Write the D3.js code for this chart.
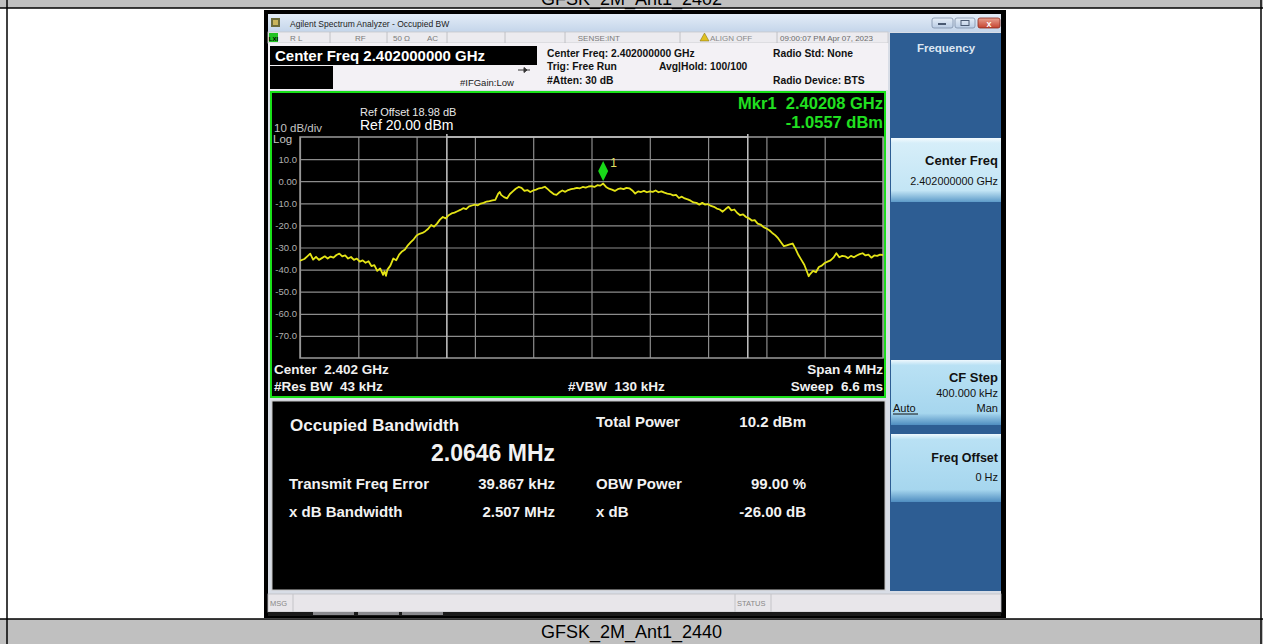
<!DOCTYPE html>
<html>
<head>
<meta charset="utf-8">
<script src="https://cdn.jsdelivr.net/npm/d3@7"></script>
<style>
  body { margin: 0; background: #fff; }
  svg text { font-family: Arial, "Liberation Sans", sans-serif; white-space: pre; }
</style>
</head>
<body>
<div id="canvas"></div>
<script>
const W = 1263;
const H = 644;

// captions of the table rows
const captionTop = "GFSK_2M_Ant1_2402";
const captionBottom = "GFSK_2M_Ant1_2440";

// trace (MHz, dBm)
const traceFreq = [
  2400.00, 2400.03, 2400.05, 2400.07, 2400.09, 2400.11, 2400.13, 2400.15, 2400.17, 2400.19,
  2400.21, 2400.23, 2400.25, 2400.27, 2400.29, 2400.31, 2400.33, 2400.35, 2400.37, 2400.39,
  2400.41, 2400.43, 2400.45, 2400.47, 2400.49, 2400.51, 2400.53, 2400.55, 2400.57, 2400.58,
  2400.59, 2400.60, 2400.62, 2400.64, 2400.66, 2400.68, 2400.70, 2400.72, 2400.74, 2400.76,
  2400.78, 2400.80, 2400.82, 2400.84, 2400.86, 2400.88, 2400.90, 2400.92, 2400.94, 2400.96,
  2400.98, 2401.00, 2401.02, 2401.04, 2401.06, 2401.08, 2401.10, 2401.12, 2401.14, 2401.16,
  2401.18, 2401.20, 2401.22, 2401.24, 2401.26, 2401.28, 2401.30, 2401.32, 2401.34, 2401.36,
  2401.37, 2401.38, 2401.40, 2401.42, 2401.44, 2401.46, 2401.48, 2401.50, 2401.52, 2401.54,
  2401.56, 2401.58, 2401.60, 2401.62, 2401.64, 2401.66, 2401.68, 2401.70, 2401.72, 2401.74,
  2401.76, 2401.78, 2401.80, 2401.82, 2401.84, 2401.86, 2401.88, 2401.90, 2401.92, 2401.94,
  2401.96, 2401.98, 2402.00, 2402.02, 2402.04, 2402.06, 2402.08, 2402.10, 2402.12, 2402.14,
  2402.16, 2402.18, 2402.20, 2402.22, 2402.24, 2402.26, 2402.28, 2402.30, 2402.32, 2402.34,
  2402.36, 2402.38, 2402.40, 2402.42, 2402.44, 2402.46, 2402.48, 2402.50, 2402.52, 2402.54,
  2402.56, 2402.58, 2402.60, 2402.62, 2402.64, 2402.66, 2402.68, 2402.70, 2402.72, 2402.74,
  2402.76, 2402.78, 2402.80, 2402.82, 2402.84, 2402.86, 2402.88, 2402.90, 2402.92, 2402.94,
  2402.96, 2402.98, 2403.00, 2403.02, 2403.04, 2403.06, 2403.08, 2403.10, 2403.12, 2403.14,
  2403.16, 2403.18, 2403.20, 2403.22, 2403.24, 2403.26, 2403.28, 2403.30, 2403.32, 2403.34,
  2403.36, 2403.38, 2403.40, 2403.42, 2403.44, 2403.46, 2403.48, 2403.49, 2403.50, 2403.52,
  2403.54, 2403.56, 2403.58, 2403.60, 2403.62, 2403.64, 2403.66, 2403.68, 2403.70, 2403.72,
  2403.74, 2403.76, 2403.78, 2403.80, 2403.82, 2403.84, 2403.86, 2403.88, 2403.90, 2403.92,
  2403.94, 2403.96, 2403.98, 2404.00
];
const traceLevel = [
  -36.0, -35.2, -34.0, -32.8, -35.5, -34.2, -35.6, -34.8, -34.0, -35.0,
  -34.1, -34.6, -33.4, -32.8, -34.0, -33.6, -35.0, -34.3, -35.6, -35.0,
  -36.4, -35.8, -36.9, -36.2, -38.4, -38.0, -40.6, -39.5, -42.4, -40.8,
  -42.8, -40.0, -38.2, -35.0, -35.8, -33.2, -31.8, -30.9, -29.0, -27.6,
  -26.3, -24.6, -23.8, -23.4, -22.6, -21.5, -19.8, -20.6, -19.2, -17.4,
  -16.2, -16.8, -15.4, -14.6, -14.2, -13.6, -13.0, -12.2, -12.6, -11.4,
  -11.0, -10.6, -10.9, -10.1, -9.8, -9.2, -9.0, -8.7, -8.4, -5.6,
  -4.9, -6.2, -7.2, -7.8, -5.8, -4.6, -3.4, -2.6, -3.0, -4.4,
  -4.0, -4.9, -4.2, -3.8, -3.2, -3.0, -2.5, -3.6, -4.8, -5.8,
  -6.2, -5.0, -4.2, -4.8, -4.0, -3.6, -3.4, -3.0, -3.2, -2.6,
  -2.9, -2.4, -2.2, -2.6, -1.8, -2.0, -1.06, -2.6, -3.4, -3.8,
  -4.4, -3.6, -3.2, -3.6, -3.0, -3.2, -4.2, -5.6, -4.6, -4.9,
  -4.4, -5.0, -4.6, -4.8, -4.2, -5.0, -4.6, -5.2, -5.6, -5.8,
  -6.4, -6.2, -7.6, -7.0, -7.8, -8.2, -8.8, -9.6, -9.8, -10.6,
  -9.8, -10.6, -10.4, -11.2, -11.6, -12.4, -12.8, -13.8, -12.6, -11.6,
  -13.2, -12.8, -14.4, -15.4, -15.0, -16.2, -16.8, -17.8, -17.6, -19.2,
  -19.6, -20.8, -21.4, -22.2, -23.4, -24.4, -25.8, -27.6, -29.4, -29.0,
  -28.6, -28.2, -30.6, -33.4, -35.6, -37.8, -41.2, -43.0, -42.0, -40.6,
  -41.2, -38.8, -38.2, -37.0, -36.4, -35.8, -34.6, -32.6, -34.4, -33.8,
  -34.0, -34.8, -33.8, -34.4, -33.6, -33.0, -32.6, -33.6, -33.2, -34.6,
  -33.6, -33.8, -33.2, -33.4
];

// graticule
const freqGrid = [2400.0, 2400.4, 2400.8, 2401.2, 2401.6, 2402.0, 2402.4, 2402.8, 2403.2, 2403.6, 2404.0];
const levelTicks = [10, 0, -10, -20, -30, -40, -50, -60, -70];
const levelLabels = ["10.0", "0.00", "-10.0", "-20.0", "-30.0", "-40.0", "-50.0", "-60.0", "-70.0"];
const refLevel = 20;
const bottomLevel = -80;

// marker and occupied bandwidth edges
const markerFreq = 2402.08;
const markerLevel = -1.0557;
const obwEdges = [2401.0076, 2403.0722];

// measurement summary
const resultRows = [
  { name: "Transmit Freq Error", value: "39.867 kHz", name2: "OBW Power", value2: "99.00 %" },
  { name: "x dB Bandwidth", value: "2.507 MHz", name2: "x dB", value2: "-26.00 dB" }
];

const svg = d3.select("#canvas").append("svg")
  .attr("width", W)
  .attr("height", H);

const defs = svg.append("defs");
function vgrad(id, stops) {
  const g = defs.append("linearGradient").attr("id", id)
    .attr("x1", 0).attr("y1", 0).attr("x2", 0).attr("y2", 1);
  stops.forEach(s => g.append("stop").attr("offset", s[0]).attr("stop-color", s[1]));
}
vgrad("titleBar", [[0, "#e3ecf7"], [1, "#c4d5ea"]]);
vgrad("keyLight", [[0, "#f4fbfe"], [0.08, "#d6eef9"], [0.82, "#c3e5f5"], [1, "#5d9bc9"]]);
vgrad("keyBlue", [[0, "#eef8fd"], [0.08, "#b9e1f4"], [0.82, "#a6d6ee"], [1, "#4f8dc0"]]);
vgrad("winBtn", [[0, "#e6eef8"], [1, "#b9cbe3"]]);
vgrad("closeBtn", [[0, "#e9a190"], [1, "#c4432f"]]);

function label(parent, x, y, s, o) {
  o = o || {};
  return parent.append("text")
    .attr("x", x).attr("y", y)
    .attr("font-size", (o.size || 10) + "px")
    .attr("font-weight", o.weight || "normal")
    .attr("fill", o.fill || "#000")
    .attr("text-anchor", o.anchor || "start")
    .text(s);
}

// ---- page / table frame
svg.append("rect").attr("x", 0).attr("y", 0).attr("width", W).attr("height", 8).attr("fill", "#c0c0c0");
svg.append("rect").attr("x", 0).attr("y", 619).attr("width", W).attr("height", H - 619).attr("fill", "#c0c0c0");
label(svg, W / 2, 5, captionTop, { size: 18, anchor: "middle" });
label(svg, W / 2, 638, captionBottom, { size: 18, anchor: "middle" });
[[0, 8, W, 8], [0, 619, W, 619], [7, 0, 7, H], [1261, 0, 1261, H]].forEach(l => {
  svg.append("line").attr("x1", l[0]).attr("y1", l[1]).attr("x2", l[2]).attr("y2", l[3])
    .attr("stroke", "#000").attr("stroke-width", 1.5);
});

// ---- screenshot window
const win = svg.append("g");
win.append("rect").attr("x", 264).attr("y", 10).attr("width", 742).attr("height", 608).attr("fill", "#000");
win.append("rect").attr("x", 268).attr("y", 14).attr("width", 733).attr("height", 600).attr("fill", "#d8dde6");
win.append("rect").attr("x", 268).attr("y", 14).attr("width", 733).attr("height", 18).attr("fill", "url(#titleBar)");
win.append("rect").attr("x", 271).attr("y", 18).attr("width", 9).attr("height", 9).attr("fill", "#6b6b3a");
win.append("rect").attr("x", 273).attr("y", 20).attr("width", 5).attr("height", 5).attr("fill", "#c9b45a");
label(win, 290, 26.5, "Agilent Spectrum Analyzer - Occupied BW", { size: 8.5, fill: "#222" });
[[932, 21, "winBtn"], [955, 20, "winBtn"], [978, 22, "closeBtn"]].forEach(b => {
  win.append("rect").attr("x", b[0]).attr("y", 18).attr("width", b[1]).attr("height", 10).attr("rx", 2)
    .attr("fill", "url(#" + b[2] + ")").attr("stroke", b[2] === "closeBtn" ? "#8a2a1c" : "#7e8fa8").attr("stroke-width", 0.8);
});
win.append("rect").attr("x", 938).attr("y", 23).attr("width", 8).attr("height", 2).attr("fill", "#4a5a72");
win.append("rect").attr("x", 961).attr("y", 20.5).attr("width", 8).attr("height", 5).attr("fill", "none").attr("stroke", "#4a5a72").attr("stroke-width", 1);
label(win, 989, 26.5, "x", { size: 9, weight: "bold", fill: "#fff", anchor: "middle" });

// status row
win.append("rect").attr("x", 268).attr("y", 32).attr("width", 620).attr("height", 11).attr("fill", "#ecebef").attr("stroke", "#c8c8cc").attr("stroke-width", 0.8);
win.append("rect").attr("x", 269).attr("y", 33).attr("width", 9).attr("height", 9).attr("fill", "#22c322");
label(win, 273.5, 40.5, "LXI", { size: 6, weight: "bold", anchor: "middle" });
[330, 387, 447, 505, 565, 680, 777].forEach(x => {
  win.append("line").attr("x1", x).attr("x2", x).attr("y1", 32).attr("y2", 43).attr("stroke", "#b8b8bc").attr("stroke-width", 0.8);
});
label(win, 290, 40.5, "R L", { size: 8, fill: "#7a7a7a" });
label(win, 355, 40.5, "RF", { size: 8, fill: "#7a7a7a" });
label(win, 393, 40.5, "50 \u03a9", { size: 8, fill: "#7a7a7a" });
label(win, 427, 40.5, "AC", { size: 8, fill: "#7a7a7a" });
label(win, 620, 40.5, "SENSE:INT", { size: 8, fill: "#7a7a7a", anchor: "end" });
win.append("path").attr("d", "M700,41 L704.5,33 L709,41 Z").attr("fill", "#e0c020").attr("stroke", "#7a6a10").attr("stroke-width", 0.5);
label(win, 710, 40.5, "ALIGN OFF", { size: 8, fill: "#8a8a8a" });
label(win, 780, 40.5, "09:00:07 PM Apr 07, 2023", { size: 8, fill: "#6a6a6a" });

// info area
win.append("rect").attr("x", 268).attr("y", 43).attr("width", 620).attr("height", 47).attr("fill", "#f3f1f5");
win.append("rect").attr("x", 270).attr("y", 46).attr("width", 267).attr("height", 19).attr("fill", "#000");
win.append("rect").attr("x", 270).attr("y", 66).attr("width", 63).attr("height", 23).attr("fill", "#000");
label(win, 275, 61, "Center Freq 2.402000000 GHz", { size: 15, weight: "bold", fill: "#fff" });
label(win, 547, 57, "Center Freq: 2.402000000 GHz", { size: 10.3, weight: "bold", fill: "#111" });
label(win, 547, 70, "Trig: Free Run", { size: 10.3, weight: "bold", fill: "#111" });
label(win, 547, 84, "#Atten: 30 dB", { size: 10.3, weight: "bold", fill: "#111" });
label(win, 659, 70, "Avg|Hold: 100/100", { size: 10.3, weight: "bold", fill: "#111" });
label(win, 773, 57, "Radio Std: None", { size: 10.3, weight: "bold", fill: "#111" });
label(win, 773, 84, "Radio Device: BTS", { size: 10.3, weight: "bold", fill: "#111" });
label(win, 460, 86, "#IFGain:Low", { size: 9.5, fill: "#222" });
win.append("path").attr("d", "M518,70 L530,70 M524,67.5 L527,70 L524,72.5 Z").attr("stroke", "#333").attr("stroke-width", 1).attr("fill", "#333");

// ---- spectrum display
const disp = svg.append("g");
disp.append("rect").attr("x", 271).attr("y", 92).attr("width", 614).attr("height", 305)
  .attr("fill", "#000").attr("stroke", "#19e019").attr("stroke-width", 2);

const x = d3.scaleLinear().domain([freqGrid[0], freqGrid[freqGrid.length - 1]]).range([300, 883]);
const y = d3.scaleLinear().domain([bottomLevel, refLevel]).range([358, 137]);
const gw = x.range()[1] - x.range()[0];
const gh = y.range()[0] - y.range()[1];

const gridX = disp.append("g")
  .attr("transform", "translate(0," + y(bottomLevel) + ")")
  .call(d3.axisBottom(x).tickValues(freqGrid).tickSize(-gh).tickFormat(""));
const gridY = disp.append("g")
  .attr("transform", "translate(" + x.range()[0] + ",0)")
  .call(d3.axisLeft(y).tickValues(levelTicks).tickSize(-gw).tickPadding(3)
    .tickFormat((d, i) => levelLabels[i]));
[gridX, gridY].forEach(g => {
  g.select(".domain").remove();
  g.selectAll(".tick line").attr("stroke", "#8c8c8c").attr("stroke-width", 1.2);
});
gridY.selectAll(".tick text").attr("fill", "#b0b0b0").attr("font-size", "9.5px")
  .attr("font-family", "Arial, 'Liberation Sans', sans-serif");
disp.append("rect").attr("x", x.range()[0]).attr("y", y(refLevel)).attr("width", gw).attr("height", gh)
  .attr("fill", "none").attr("stroke", "#9a9a9a").attr("stroke-width", 1.5);

// occupied bandwidth bracket
obwEdges.forEach(f => {
  disp.append("line").attr("x1", x(f)).attr("x2", x(f)).attr("y1", y(refLevel) - 3).attr("y2", y(bottomLevel))
    .attr("stroke", "#bcbcbc").attr("stroke-width", 1.6);
});
disp.append("line").attr("x1", x(obwEdges[0])).attr("x2", x(obwEdges[1]))
  .attr("y1", y(refLevel)).attr("y2", y(refLevel)).attr("stroke", "#c4c4c4").attr("stroke-width", 1.5);

// trace
disp.append("clipPath").attr("id", "gratClip").append("rect")
  .attr("x", x.range()[0]).attr("y", y(refLevel)).attr("width", gw).attr("height", gh);
const line = d3.line().x(d => x(d[0])).y(d => y(d[1]));
disp.append("path")
  .datum(traceFreq.map((f, i) => [f, traceLevel[i]]))
  .attr("clip-path", "url(#gratClip)")
  .attr("d", line)
  .attr("fill", "none")
  .attr("stroke", "#e4e416")
  .attr("stroke-width", 1.8)
  .attr("stroke-linejoin", "round");

// marker
const mx = x(markerFreq);
const my = y(markerLevel) - 2.5;
disp.append("path")
  .attr("d", `M${mx},${my} L${mx - 5},${my - 10} L${mx},${my - 20} L${mx + 5},${my - 10} Z`)
  .attr("fill", "#19d919");
label(disp, mx + 7, my - 14, "1", { size: 12, fill: "#e4e060" });

// display annotations
label(disp, 360, 116, "Ref Offset 18.98 dB", { size: 11, fill: "#e8e8e8" });
label(disp, 360, 130, "Ref 20.00 dBm", { size: 14, fill: "#fff" });
label(disp, 274, 131.5, "10 dB/div", { size: 11.5, fill: "#c4c4c4" });
label(disp, 273, 143, "Log", { size: 11.5, fill: "#c4c4c4" });
label(disp, 883, 109, "Mkr1  2.40208 GHz", { size: 16.5, weight: "bold", fill: "#20e020", anchor: "end" });
label(disp, 883, 128, "-1.0557 dBm", { size: 16.5, weight: "bold", fill: "#20e020", anchor: "end" });
label(disp, 274, 374, "Center  2.402 GHz", { size: 13.5, weight: "bold", fill: "#f0f0f0" });
label(disp, 274, 391, "#Res BW  43 kHz", { size: 13.5, weight: "bold", fill: "#f0f0f0" });
label(disp, 568, 391, "#VBW  130 kHz", { size: 13.5, weight: "bold", fill: "#f0f0f0" });
label(disp, 883, 374, "Span 4 MHz", { size: 13.5, weight: "bold", fill: "#f0f0f0", anchor: "end" });
label(disp, 883, 391, "Sweep  6.6 ms", { size: 13.5, weight: "bold", fill: "#f0f0f0", anchor: "end" });

// ---- measurement results
const res = svg.append("g");
res.append("rect").attr("x", 272).attr("y", 401).attr("width", 613).attr("height", 189)
  .attr("fill", "#000").attr("stroke", "#c4c4c4").attr("stroke-width", 1);
label(res, 290, 431, "Occupied Bandwidth", { size: 17, weight: "bold", fill: "#f2f2f2" });
label(res, 555, 461, "2.0646 MHz", { size: 23, weight: "bold", fill: "#f2f2f2", anchor: "end" });
label(res, 596, 427, "Total Power", { size: 15, weight: "bold", fill: "#f2f2f2" });
label(res, 806, 427, "10.2 dBm", { size: 15, weight: "bold", fill: "#f2f2f2", anchor: "end" });
resultRows.forEach((r, i) => {
  const by = 489 + i * 28;
  label(res, 289, by, r.name, { size: 15, weight: "bold", fill: "#f2f2f2" });
  label(res, 555, by, r.value, { size: 15, weight: "bold", fill: "#f2f2f2", anchor: "end" });
  label(res, 596, by, r.name2, { size: 15, weight: "bold", fill: "#f2f2f2" });
  label(res, 806, by, r.value2, { size: 15, weight: "bold", fill: "#f2f2f2", anchor: "end" });
});

// ---- soft key panel
const keys = svg.append("g");
keys.append("rect").attr("x", 890).attr("y", 33).attr("width", 111).attr("height", 558).attr("fill", "#2d5d93");
label(keys, 946, 52, "Frequency", { size: 11.5, weight: "bold", fill: "#dce6f2", anchor: "middle" });
keys.append("rect").attr("x", 891).attr("y", 138).attr("width", 110).attr("height", 64).attr("fill", "url(#keyLight)");
label(keys, 998, 165, "Center Freq", { size: 13, weight: "bold", fill: "#111", anchor: "end" });
label(keys, 998, 185, "2.402000000 GHz", { size: 10.8, fill: "#111", anchor: "end" });
keys.append("rect").attr("x", 891).attr("y", 360).attr("width", 110).attr("height", 65).attr("fill", "url(#keyBlue)");
label(keys, 998, 382, "CF Step", { size: 13, weight: "bold", fill: "#111", anchor: "end" });
label(keys, 998, 397, "400.000 kHz", { size: 11, fill: "#111", anchor: "end" });
label(keys, 893, 412, "Auto", { size: 11, fill: "#111" });
keys.append("line").attr("x1", 893).attr("x2", 918).attr("y1", 414).attr("y2", 414).attr("stroke", "#111").attr("stroke-width", 1);
label(keys, 998, 412, "Man", { size: 11, fill: "#111", anchor: "end" });
keys.append("rect").attr("x", 891).attr("y", 434).attr("width", 110).attr("height", 68).attr("fill", "url(#keyBlue)");
label(keys, 998, 462, "Freq Offset", { size: 12.5, weight: "bold", fill: "#111", anchor: "end" });
label(keys, 998, 481, "0 Hz", { size: 11, fill: "#111", anchor: "end" });

// ---- message bar
const msg = svg.append("g");
msg.append("rect").attr("x", 268).attr("y", 594).attr("width", 733).attr("height", 18)
  .attr("fill", "#e8e6ea").attr("stroke", "#bdbdc2").attr("stroke-width", 0.8);
[293, 735, 771].forEach(xx => {
  msg.append("line").attr("x1", xx).attr("x2", xx).attr("y1", 594).attr("y2", 612).attr("stroke", "#c4c4c8");
});
label(msg, 270, 606, "MSG", { size: 7.5, fill: "#888" });
label(msg, 737, 606, "STATUS", { size: 7.5, fill: "#888" });
msg.append("rect").attr("x", 268).attr("y", 612).attr("width", 733).attr("height", 4).attr("fill", "#1a1a1a");
[313, 358, 402].forEach(xx => {
  msg.append("rect").attr("x", xx).attr("y", 612).attr("width", 41).attr("height", 3).attr("fill", "#8a8a8e");
});
</script>
</body>
</html>
